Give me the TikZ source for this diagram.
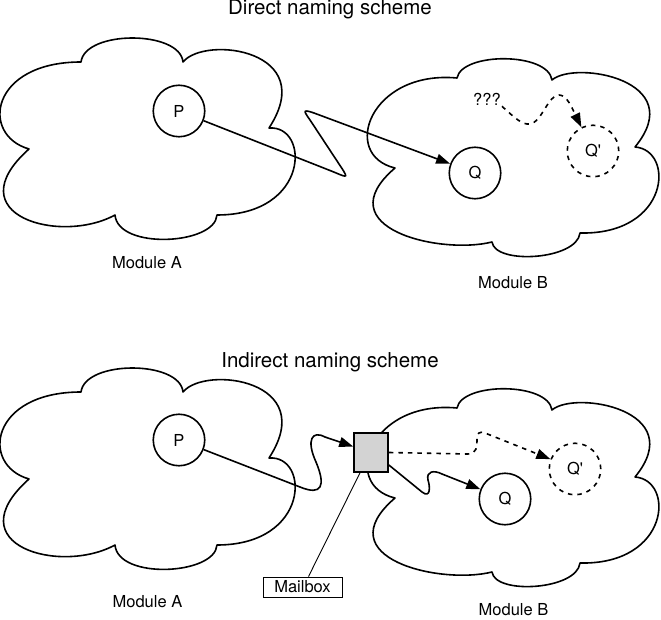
\documentclass[tikz,border=0pt]{standalone}
\usepackage{fontspec}
\setmainfont{TeX Gyre Heros}
\usetikzlibrary{arrows.meta,positioning}
\definecolor{boxgray}{RGB}{211,211,211}
\newcommand{\cloudA}{(29,149) .. controls (-20,135) and (-10,62) .. (81,62)
  .. controls (85,30) and (180,30) .. (183,62)
  .. controls (205,35) and (320,50) .. (269,128)
  .. controls (310,125) and (310,215) .. (217,215)
  .. controls (215,245) and (118,250) .. (115,215)
  .. controls (60,245) and (-45,215) .. (29,149) -- cycle}
\newcommand{\cloudB}{(395,168) .. controls (340,155) and (370,70) .. (457,78)
  .. controls (462,52) and (548,52) .. (552,80)
  .. controls (575,60) and (690,80) .. (635,147)
  .. controls (675,150) and (670,235) .. (580,233)
  .. controls (577,260) and (495,265) .. (492,242)
  .. controls (440,255) and (325,228) .. (395,168) -- cycle}
\tikzset{
  cloudline/.style={line width=1.6pt,line join=round},
  arr/.style={-{Triangle[length=14pt,width=10pt]},line width=1.6pt},
  darr/.style={arr,dash pattern=on 4.5pt off 5pt},
}

\begin{document}
\begin{tikzpicture}[x=1pt,y=-1pt,
    proc/.style={circle,draw,line width=1.6pt,minimum size=51.5pt,inner sep=0pt,
                 font=\fontsize{16.5}{18}\selectfont},
    ghost/.style={proc,dash pattern=on 4.5pt off 5pt},
    mbox/.style={rectangle,draw,fill=boxgray,line width=1.6pt,
                 minimum width=34pt,minimum height=39pt},
    tag/.style={rectangle,draw,line width=0.9pt,minimum width=79pt,minimum height=20pt,
                inner sep=1pt,font=\fontsize{16.5}{18}\selectfont},
    lbl/.style={font=\fontsize{16.5}{18}\selectfont,anchor=base,inner sep=1pt},
    ttl/.style={font=\fontsize{20.5}{24}\selectfont,anchor=base}
  ]
    \useasboundingbox (0,0) rectangle (661,620);

    % direct naming
    \node[ttl] (title1) at (330,15) {Direct naming scheme};
    \draw[cloudline] \cloudA;
    \draw[cloudline] \cloudB;
    \node[proc] (P1) at (179,111) {P};
    \node[proc] (Q1) at (475,173) {Q};
    \node[ghost] (Qp1) at (593,151) {Q\textquotesingle};
    \node[lbl,anchor=center] (qm) at (487,99) {???};
    \node[lbl] (modA1) at (147,269) {Module A};
    \node[lbl] (modB1) at (513,289) {Module B};

    \draw[arr] (P1) -- (330,170.5) .. controls (346,176.8) and (349.8,180.3) .. (341,167)
      -- (312,123) .. controls (304.3,111.4) and (300.7,108.5) .. (314,113) -- (Q1);
    \draw[darr] (qm.south east) .. controls (515,118) and (522,125) .. (530,124)
      .. controls (542,122) and (548,95) .. (559,95)
      .. controls (567,95) and (572,108) .. (Qp1);

    % indirect naming
    \node[ttl] (title2) at (330,367) {Indirect naming scheme};
    \begin{scope}[shift={(0,330)}]
      \draw[cloudline] \cloudA;
      \draw[cloudline] \cloudB;
    \end{scope}
    \node[proc] (P2) at (179,440) {P};
    \node[proc] (Q2) at (505,499) {Q};
    \node[ghost] (Qp2) at (575,469) {Q\textquotesingle};
    \node[mbox] (mb) at (371,452.5) {};
    \node[tag] (mlabel) at (302.5,587) {Mailbox};
    \node[lbl] (modA2) at (147.5,607) {Module A};
    \node[lbl] (modB2) at (513.5,615) {Module B};

    \draw[arr] (P2) -- (300,487) .. controls (322,496) and (326,486) .. (316,462)
      .. controls (306,440) and (312,430) .. (325,437) -- (mb);
    \draw[arr] (mb.-35) -- (422,492) .. controls (431,499) and (430,486) .. (428,480)
      .. controls (426,471) and (434,470) .. (442,474) -- (Q2);
    \draw[darr] (mb.east) -- (468,454) .. controls (477,454) and (477,446) .. (477,440)
      .. controls (477,433) and (479,431) .. (485,433) -- (Qp2);
    \draw[line width=0.9pt] ([xshift=-11pt]mb.south) -- ([xshift=6pt]mlabel.north);
\end{tikzpicture}
\end{document}
